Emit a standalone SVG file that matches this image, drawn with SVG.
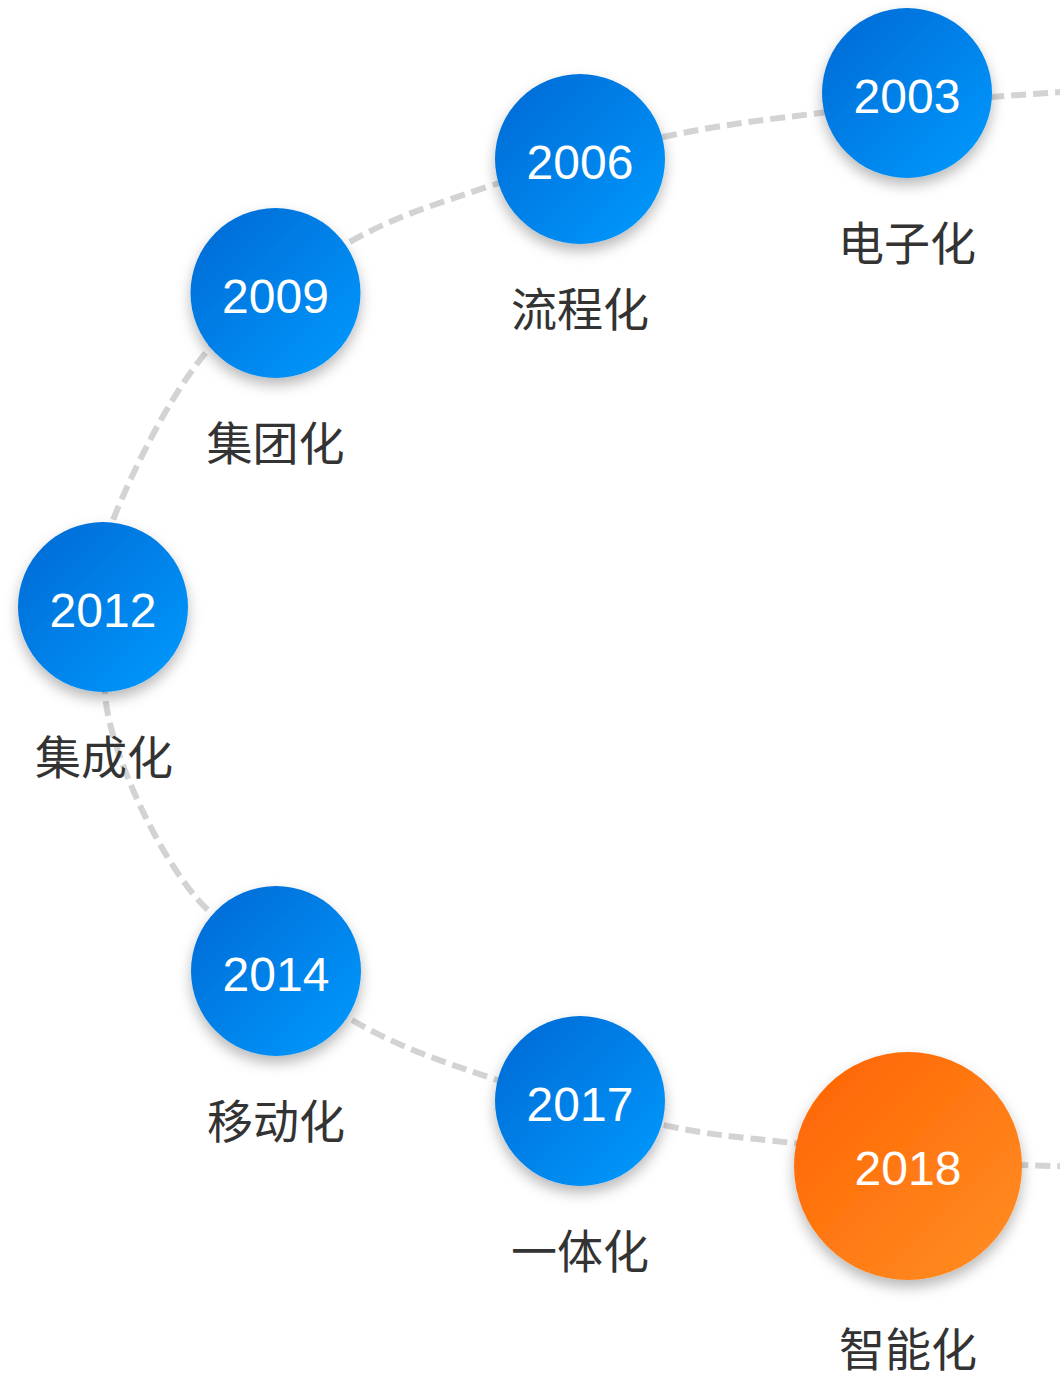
<svg xmlns="http://www.w3.org/2000/svg" width="1060" height="1380" viewBox="0 0 1060 1380">
  <defs>
    <linearGradient id="gBlue" x1="0" y1="0" x2="1" y2="1">
      <stop offset="0" stop-color="#0068d3"/>
      <stop offset="1" stop-color="#009bff"/>
    </linearGradient>
    <linearGradient id="gOrange" x1="0" y1="0" x2="1" y2="1">
      <stop offset="0" stop-color="#ff6300"/>
      <stop offset="1" stop-color="#ff8f26"/>
    </linearGradient>
    <filter id="shadow" x="-40%" y="-40%" width="180%" height="190%">
      <feDropShadow dx="0" dy="7" stdDeviation="7" flood-color="#000000" flood-opacity="0.28"/>
    </filter>
    <style>
      .line { fill: none; stroke: #d3d3d3; stroke-width: 6; stroke-dasharray: 15 7; }
      .blue { fill: url(#gBlue); filter: url(#shadow); }
      .orange { fill: url(#gOrange); filter: url(#shadow); }
      .year { font-family: "Liberation Sans", "Noto Sans", sans-serif; font-size: 48px; fill: #ffffff; text-anchor: middle; }
      .label { font-family: "Noto Sans CJK SC", "Noto Sans", sans-serif; font-size: 46px; fill: #333333; text-anchor: middle; }
    </style>
  </defs>
  <rect width="1060" height="1380" fill="#ffffff"/>
  <g id="connectors">
    <path class="line" d="M1070,91.3 L992,97 C952,100.5 874.8,106.3 820,113 C765.2,119.7 717.5,125 663,137 C608.5,149 545.5,167.3 493,185 C440.5,202.7 395.5,215.5 348,243 C300.5,270.5 246.8,304.7 208,350 C169.2,395.3 132.3,472.5 115,515 C97.7,557.5 105.7,575.3 104,605 C102.3,634.7 104,660 105,693 C108,750 163,868 208,910 C249.2,964.5 303.8,991.7 352,1020 C400.2,1048.3 445.2,1062.5 497,1080 C548.8,1097.5 613.7,1114.5 663,1125 C712.3,1135.5 733.2,1136.3 793,1143 C852.8,1149.7 977.5,1161.2 1022,1165 L1070,1166.5"/>
  </g>
  <g id="node-2003">
    <circle class="blue" cx="907" cy="93" r="85"/>
    <text class="year" x="907" y="113">2003</text>
    <text class="label" x="907" y="260">电子化</text>
  </g>
  <g id="node-2006">
    <circle class="blue" cx="580" cy="159" r="85"/>
    <text class="year" x="580" y="179">2006</text>
    <text class="label" x="580" y="326">流程化</text>
  </g>
  <g id="node-2009">
    <circle class="blue" cx="275.5" cy="293" r="85"/>
    <text class="year" x="275.5" y="313">2009</text>
    <text class="label" x="275.5" y="460">集团化</text>
  </g>
  <g id="node-2012">
    <circle class="blue" cx="103" cy="607" r="85"/>
    <text class="year" x="103" y="627">2012</text>
    <text class="label" x="104" y="774">集成化</text>
  </g>
  <g id="node-2014">
    <circle class="blue" cx="276" cy="971" r="85"/>
    <text class="year" x="276" y="991">2014</text>
    <text class="label" x="276" y="1138">移动化</text>
  </g>
  <g id="node-2017">
    <circle class="blue" cx="580" cy="1101" r="85"/>
    <text class="year" x="580" y="1121">2017</text>
    <text class="label" x="580" y="1268">一体化</text>
  </g>
  <g id="node-2018">
    <circle class="orange" cx="908" cy="1166" r="114"/>
    <text class="year" x="908" y="1185">2018</text>
    <text class="label" x="908" y="1366">智能化</text>
  </g>
</svg>
